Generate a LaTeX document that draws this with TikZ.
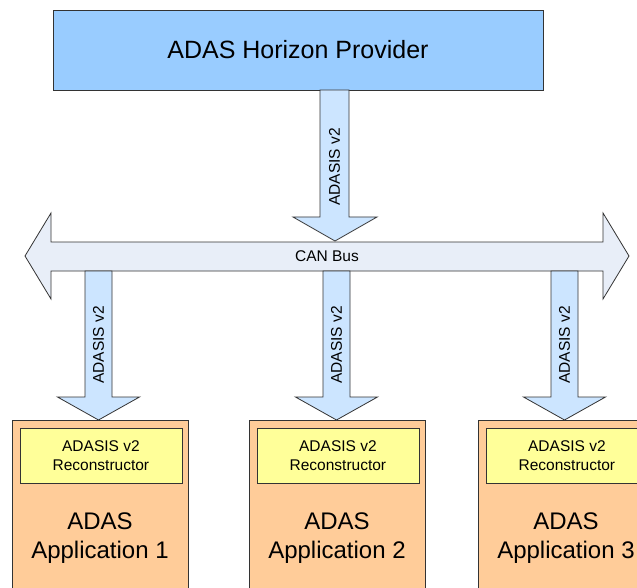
\documentclass[tikz,border=0pt]{standalone}
\usepackage{fontspec}
\setmainfont{Liberation Sans}
\definecolor{provfill}{HTML}{99CCFF}
\definecolor{arrfill}{HTML}{CCE5FF}
\definecolor{busfill}{HTML}{E8EEF8}
\definecolor{appfill}{HTML}{FFCC99}
\definecolor{recfill}{HTML}{FFFF99}
\definecolor{edge}{HTML}{333333}
\tikzset{
  shape line/.style={draw=edge, line width=0.8pt, line join=miter},
  box/.style={shape line, rectangle, inner sep=0pt, anchor=north west},
  small/.style={font=\fontsize{15.5}{19}\selectfont, align=center, inner sep=0pt},
  big/.style={font=\fontsize{24}{29}\selectfont, align=center, inner sep=0pt},
}
\begin{document}
\begin{tikzpicture}[x=1pt,y=-1pt]
\useasboundingbox (0,0) rectangle (637,588);
\clip (0,0) rectangle (637,588);
\fill[white] (0,0) rectangle (637,588);

% provider
\node[box, fill=provfill, minimum width=490, minimum height=80] (prov) at (53,10) {};
\node[font=\fontsize{25}{30}\selectfont, inner sep=0pt] (provtxt) at (298,50) {ADAS Horizon Provider};

% application boxes
\foreach \i/\x in {1/12, 2/249, 3/478}{
  \node[box, fill=appfill, minimum width=176, minimum height=200] (app\i) at (\x,420) {};
  \node[box, fill=recfill, minimum width=162, minimum height=55] (rec\i) at (\x+7.5,428) {};
  \node[small] (rectxt\i) at (rec\i.center) {ADASIS v2\\Reconstructor};
  \node[big] (apptxt\i) at (\x+88,538) {ADAS\\Application \i};
}

% CAN bus double arrow
\draw[shape line, fill=busfill] (25,256) -- (51,213) -- (51,242) -- (603,242) -- (603,213)
  -- (629,256) -- (603,299) -- (603,271) -- (51,271) -- (51,299) -- cycle;
\node[small] (bus) at (327,256) {CAN Bus};

% top arrow
\draw[shape line, fill=arrfill] (320,90) -- (349,90) -- (349,217) -- (377,217) -- (335,241)
  -- (293,217) -- (320,217) -- cycle;
\node[small, rotate=90] (toplbl) at (334.5,167) {ADASIS v2};

% lower arrows
\foreach \i/\c in {1/98.5, 2/336.5, 3/564.5}{
  \draw[shape line, fill=arrfill] (\c-13.5,271) -- (\c+13.5,271) -- (\c+13.5,397) -- (\c+41,397)
    -- (\c,420) -- (\c-41,397) -- (\c-13.5,397) -- cycle;
  \node[small, rotate=90] (lbl\i) at (\c,345) {ADASIS v2};
}
\end{tikzpicture}
\end{document}
